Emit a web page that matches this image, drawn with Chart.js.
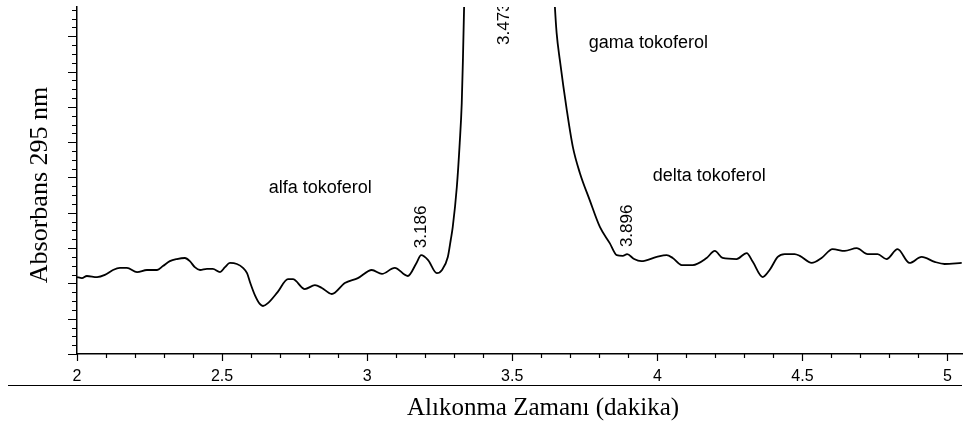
<!DOCTYPE html>
<html>
<head>
<meta charset="utf-8">
<title>Kromatogram - tokoferol</title>
<script src="https://cdn.jsdelivr.net/npm/chart.js@4.4.0/dist/chart.umd.min.js"></script>
<style>
  html, body { margin: 0; padding: 0; background: #fff; }
  #wrap { width: 974px; height: 425px; }
</style>
</head>
<body>
<div id="wrap"><canvas id="chromatogram" width="974" height="425"></canvas></div>
<script>
// --- data ---------------------------------------------------------------
// retention time (dakika) and detector signal at 295 nm (arbitrary units)
const retentionTimes = [
  2.000, 2.017, 2.034, 2.069, 2.096, 2.124, 2.148, 2.172, 2.207, 2.241,
  2.276, 2.296, 2.320, 2.344, 2.372, 2.389, 2.406, 2.424, 2.448, 2.468,
  2.493, 2.510, 2.527, 2.551, 2.572, 2.586, 2.596, 2.613, 2.630, 2.641,
  2.658, 2.692, 2.727, 2.744, 2.785, 2.820, 2.844, 2.878, 2.923, 2.968,
  3.016, 3.051, 3.095, 3.140, 3.170, 3.186, 3.210, 3.240, 3.258, 3.278,
  3.288, 3.295, 3.309, 3.319, 3.326, 3.330, 3.340, 3.400, 3.473, 3.550,
  3.620, 3.640, 3.647, 3.653, 3.664, 3.688, 3.709, 3.733, 3.767, 3.802,
  3.836, 3.860, 3.881, 3.896, 3.920, 3.945, 3.998, 4.032, 4.053, 4.084,
  4.122, 4.170, 4.198, 4.225, 4.273, 4.308, 4.329, 4.363, 4.387, 4.415,
  4.439, 4.473, 4.491, 4.532, 4.566, 4.604, 4.646, 4.687, 4.725, 4.759,
  4.790, 4.828, 4.869, 4.911, 4.956, 4.990, 5.049
];
const absorbance = [
  2.18, 2.15, 2.21, 2.18, 2.24, 2.38, 2.44, 2.44, 2.32, 2.38,
  2.38, 2.49, 2.63, 2.69, 2.72, 2.63, 2.46, 2.38, 2.41, 2.41,
  2.32, 2.46, 2.58, 2.55, 2.44, 2.29, 2.04, 1.67, 1.42, 1.36,
  1.44, 1.76, 2.12, 2.12, 1.84, 1.95, 1.87, 1.70, 2.01, 2.15,
  2.38, 2.27, 2.44, 2.21, 2.58, 2.80, 2.66, 2.29, 2.38, 2.75,
  3.23, 3.60, 4.73, 5.98, 7.11, 8.33, 12.0, 30.0, 42.0, 30.0,
  14.0, 11.0, 9.83, 9.09, 8.33, 6.91, 5.86, 5.13, 4.36, 3.60,
  3.14, 2.80, 2.78, 2.83, 2.69, 2.63, 2.75, 2.80, 2.72, 2.52,
  2.52, 2.72, 2.92, 2.72, 2.69, 2.86, 2.61, 2.18, 2.38, 2.75,
  2.83, 2.83, 2.78, 2.58, 2.72, 2.97, 2.92, 3.00, 2.83, 2.83,
  2.69, 2.97, 2.58, 2.75, 2.61, 2.55, 2.58
];

// integrated peaks (retention time labels)
const peakTimes = [3.186, 3.473, 3.896];
const peakLabels = ['3.186', '3.473', '3.896'];

// compound names written next to the peaks
const compoundNames = ['alfa tokoferol', 'gama tokoferol', 'delta tokoferol'];

// axis setup
const timeMin = 2;
const timeMax = 5.05;
const signalMax = 9.83;
const xTitle = 'Alıkonma Zamanı (dakika)';
const yTitle = 'Absorbans 295 nm';

// --- helpers ------------------------------------------------------------
const SANS = '"Liberation Sans", Arial, sans-serif';
const SERIF = '"Liberation Serif", "Times New Roman", serif';

function isHalfStep(v) {
  return Math.abs(v * 2 - Math.round(v * 2)) < 1e-6;
}

// ticks, titles and peak annotations in the style of the integrator printout
const decorPlugin = {
  id: 'decor',
  afterDraw(chart) {
    const { ctx, chartArea: area, scales: { x, y } } = chart;
    ctx.save();
    ctx.strokeStyle = '#000';
    ctx.fillStyle = '#000';

    // y axis: long ticks on whole units, short ones in between
    ctx.lineWidth = 1.2;
    ctx.beginPath();
    y.ticks.forEach(t => {
      const major = Math.abs(t.value - Math.round(t.value)) < 1e-6;
      const py = Math.round(y.getPixelForValue(t.value)) + 0.5;
      ctx.moveTo(area.left - (major ? 9 : 5), py);
      ctx.lineTo(area.left, py);
    });
    // x axis: longer ticks on labelled positions
    x.ticks.forEach(t => {
      const major = isHalfStep(t.value);
      const px = Math.round(x.getPixelForValue(t.value)) + 0.5;
      ctx.moveTo(px, area.bottom);
      ctx.lineTo(px, area.bottom + (major ? 7 : 4));
    });
    ctx.stroke();

    // rule under the tick labels
    ctx.lineWidth = 1.2;
    ctx.beginPath();
    ctx.moveTo(8, 385.5);
    ctx.lineTo(area.right, 385.5);
    ctx.stroke();

    // axis titles
    ctx.font = '25px ' + SERIF;
    ctx.textAlign = 'center';
    ctx.textBaseline = 'alphabetic';
    ctx.fillText(xTitle, 543, 415);

    ctx.font = '26px ' + SERIF;
    ctx.save();
    ctx.translate(47, 185);
    ctx.rotate(-Math.PI / 2);
    ctx.fillText(yTitle, 0, 0);
    ctx.restore();

    // compound names, anchored in data units
    const nameAnchors = [[2.661, 4.70], [3.764, 8.81], [3.984, 5.04]];
    ctx.font = '18px ' + SANS;
    ctx.textAlign = 'left';
    ctx.textBaseline = 'middle';
    compoundNames.forEach((name, i) => {
      const [t, a] = nameAnchors[i];
      ctx.fillText(name, x.getPixelForValue(t), y.getPixelForValue(a));
    });

    // vertical retention-time labels above each peak apex
    ctx.save();
    ctx.beginPath();
    ctx.rect(area.left, area.top, area.right - area.left, area.bottom - area.top);
    ctx.clip();
    ctx.font = '17px ' + SANS;
    peakTimes.forEach((t, i) => {
      const apex = absorbance[retentionTimes.indexOf(t)];
      const px = x.getPixelForValue(t);
      const py = Math.max(y.getPixelForValue(apex) - 7, area.top + 38);
      ctx.save();
      ctx.translate(px, py);
      ctx.rotate(-Math.PI / 2);
      ctx.textAlign = 'left';
      ctx.textBaseline = 'middle';
      ctx.fillText(peakLabels[i], 0, 0);
      ctx.restore();
    });
    ctx.restore();

    ctx.restore();
  }
};

// --- chart --------------------------------------------------------------
const points = retentionTimes.map((t, i) => ({ x: t, y: absorbance[i] }));

new Chart(document.getElementById('chromatogram'), {
  type: 'line',
  data: {
    datasets: [{
      data: points,
      borderColor: '#000',
      borderWidth: 1.8,
      pointRadius: 0,
      fill: false,
      cubicInterpolationMode: 'monotone'
    }]
  },
  options: {
    responsive: false,
    animation: false,
    layout: { padding: { top: 7, right: 12, left: 0, bottom: 0 } },
    plugins: {
      legend: { display: false },
      tooltip: { enabled: false }
    },
    scales: {
      x: {
        type: 'linear',
        min: timeMin,
        max: timeMax,
        afterFit: s => { s.height = 71; },
        grid: { drawOnChartArea: false, drawTicks: false },
        border: { display: true, color: '#000', width: 1.5 },
        ticks: {
          stepSize: 0.1,
          includeBounds: false,
          autoSkip: false,
          maxRotation: 0,
          padding: 13,
          color: '#000',
          font: { family: SANS, size: 16 },
          callback: v => isHalfStep(v) ? String(Math.round(v * 2) / 2) : ''
        }
      },
      y: {
        min: 0,
        max: signalMax,
        afterFit: s => { s.width = 77; },
        grid: { drawOnChartArea: false, drawTicks: false },
        border: { display: true, color: '#000', width: 1.5 },
        ticks: { display: false, stepSize: 0.25, includeBounds: false }
      }
    }
  },
  plugins: [decorPlugin]
});
</script>
</body>
</html>
